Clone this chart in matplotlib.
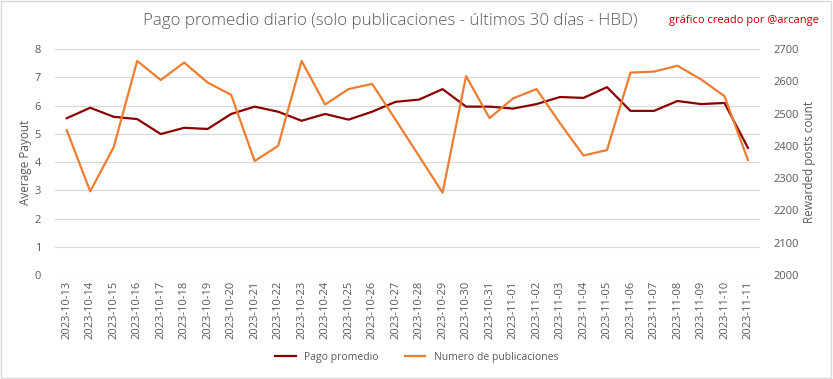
import numpy as np
import matplotlib.pyplot as plt
from matplotlib.patches import Rectangle

dates = ["2023-10-13", "2023-10-14", "2023-10-15", "2023-10-16", "2023-10-17",
         "2023-10-18", "2023-10-19", "2023-10-20", "2023-10-21", "2023-10-22",
         "2023-10-23", "2023-10-24", "2023-10-25", "2023-10-26", "2023-10-27",
         "2023-10-28", "2023-10-29", "2023-10-30", "2023-10-31", "2023-11-01",
         "2023-11-02", "2023-11-03", "2023-11-04", "2023-11-05", "2023-11-06",
         "2023-11-07", "2023-11-08", "2023-11-09", "2023-11-10", "2023-11-11"]
pago = [5.55, 5.92, 5.60, 5.52, 4.99, 5.21, 5.17, 5.70, 5.96, 5.78,
        5.46, 5.70, 5.50, 5.78, 6.13, 6.21, 6.58, 5.96, 5.96, 5.89,
        6.05, 6.30, 6.27, 6.65, 5.81, 5.81, 6.16, 6.05, 6.09, 4.50]
publicaciones = [2449, 2259, 2396, 2663, 2604, 2658, 2596, 2558, 2353, 2400,
                 2663, 2528, 2576, 2592, 2481, 2368, 2255, 2616, 2486, 2547,
                 2576, 2470, 2370, 2387, 2627, 2630, 2648, 2606, 2554, 2356]

font = ['Open Sans', 'DejaVu Sans']
grey = '#595959'
red = '#8B0000'
orange = '#ED7D31'

fig = plt.figure(figsize=(8.33, 3.79), dpi=100)
ax = fig.add_axes([0.066, 0.2744, 0.846, 0.5963])
ax2 = ax.twinx()

x = np.arange(len(dates))
l1, = ax.plot(x, pago, color=red, lw=1.6, label='Pago promedio', zorder=3)
l2, = ax2.plot(x, publicaciones, color=orange, lw=1.6, label='Numero de publicaciones', zorder=2)

ax.set_xlim(-0.5, len(dates) - 0.5)
ax.set_ylim(0, 8)
ax2.set_ylim(2000, 2700)
ax.set_yticks(range(0, 9))
ax2.set_yticks(range(2000, 2701, 100))
ax.set_xticks(x)
ax.set_xticklabels(dates, rotation=90, fontsize=7.5, color=grey, family=font)
ax.grid(axis='y', color='#D9D9D9', lw=0.9)
ax.set_axisbelow(True)
for a in (ax, ax2):
    for s in a.spines.values():
        s.set_visible(False)
    a.tick_params(length=0, labelsize=8, labelcolor=grey)
ax.tick_params(axis='x', pad=4)
ax.tick_params(axis='y', pad=10)
ax2.tick_params(axis='y', pad=10)
for t in ax.get_yticklabels() + ax2.get_yticklabels():
    t.set_family(font)

ax.set_ylabel('Average Payout', fontsize=8.5, color=grey, family=font, labelpad=2)
ax2.set_ylabel('Rewarded posts count', fontsize=8.5, color=grey, family=font, labelpad=3)

fig.text(0.468, 0.945, 'Pago promedio diario (solo publicaciones - últimos 30 días - HBD)',
         ha='center', va='center', fontsize=12.2, color=grey, family=font, fontweight='light')
fig.text(0.893, 0.945, 'gráfico creado por @arcange', ha='center', va='center',
         fontsize=8, color='#C00000', family=font)

fig.legend([l1, l2], ['Pago promedio', 'Numero de publicaciones'], loc='center',
           bbox_to_anchor=(0.5, 0.058), ncol=2, frameon=False,
           labelcolor=grey, handlelength=2.0, columnspacing=2.5, prop={'family': font, 'size': 7.5})

fig.patches.append(Rectangle((0.001, 0.002), 0.997, 0.995, transform=fig.transFigure,
                             fill=False, edgecolor='#D9D9D9', lw=1))

fig.savefig('out.png', dpi=100)
